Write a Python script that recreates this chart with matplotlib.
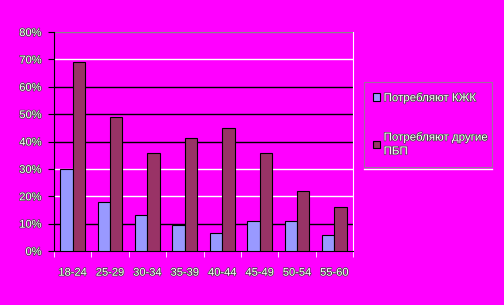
import numpy as np
import matplotlib
matplotlib.use("Agg")
import matplotlib.pyplot as plt
import matplotlib.patheffects as pe
from matplotlib.lines import Line2D

plt.rcParams.update({
    "font.family": ["Liberation Sans", "DejaVu Sans"],
    "font.size": 8,
})

# data
groups = ["18-24", "25-29", "30-34", "35-39", "40-44", "45-49", "50-54", "55-60"]
kzhk = [30, 17.8, 13, 9.6, 6.6, 11, 11, 5.7]
other_pbp = [69, 48.9, 35.7, 41.2, 45, 35.7, 21.8, 16]
series_names = ["Потребляют КЖК", "Потребляют другие\nПБП"]
yticks = [0, 10, 20, 30, 40, 50, 60, 70, 80]

bg = "#FF00FF"
txt_fx = [pe.withStroke(linewidth=1.0, foreground="#444444")]

fig = plt.figure(figsize=(5.04, 3.05), dpi=100, facecolor=bg)
ax = fig.add_axes([54 / 504, 1 - 251 / 305, 299 / 504, 219 / 305])
ax.set_facecolor(bg)

# odd mix of gridline colours in the original
grid_cols = ["black", "black", "white", "white", "black", "black", "black", "white", "#888888"]
for yv, c in zip(yticks[1:], grid_cols[1:]):
    ax.axhline(yv, color=c, linewidth=1.0, zorder=1)

x = np.arange(len(groups))
w = 0.33
ax.bar(x - w / 2, kzhk, width=w, color="#9999FF", edgecolor="black", linewidth=0.8, zorder=3)
ax.bar(x + w / 2, other_pbp, width=w, color="#993366", edgecolor="black", linewidth=0.8, zorder=3)

ax.set_xlim(-0.5, len(groups) - 0.5)
ax.set_ylim(0, 80)
ax.set_yticks(yticks)
ax.set_yticklabels([f"{v}%" for v in yticks])
ax.set_xticks(x)
ax.set_xticklabels(groups)
ax.set_xticks(np.arange(len(groups) + 1) - 0.5, minor=True)
ax.tick_params(axis="x", which="major", length=0, pad=12)
ax.tick_params(axis="x", which="minor", length=4, color="white", direction="out")
ax.tick_params(axis="y", length=4, color="black", direction="out", pad=5)
for lab in ax.get_xticklabels() + ax.get_yticklabels():
    lab.set_color("white")
    lab.set_path_effects(txt_fx)

ax.spines["top"].set_visible(False)
ax.spines["right"].set_color("white")
ax.spines["left"].set_color("black")
ax.spines["bottom"].set_color("black")

handles = [
    plt.Rectangle((0, 0), 1, 1, facecolor="#9999FF", edgecolor="black", linewidth=0.8),
    plt.Rectangle((0, 0), 1, 1, facecolor="#993366", edgecolor="black", linewidth=0.8),
]
leg = fig.legend(handles, series_names, loc="upper left",
                 bbox_to_anchor=(364 / 504, 1 - 168 / 305, 128 / 504, 86 / 305),
                 mode="expand", fontsize=8.3,
                 frameon=True, fancybox=False, facecolor=bg, edgecolor="#888888",
                 handlelength=0.6, handleheight=0.6, handletextpad=0.3,
                 labelspacing=2.3, borderpad=0.8, borderaxespad=0)
leg.get_frame().set_linewidth(0.8)
for t in leg.get_texts():
    t.set_color("white")
    t.set_path_effects(txt_fx)

fig.add_artist(Line2D([364 / 504, 492 / 504], [1 - 169 / 305] * 2, color="white", linewidth=1.0))

plt.savefig("out.png", dpi=100, facecolor=bg)
